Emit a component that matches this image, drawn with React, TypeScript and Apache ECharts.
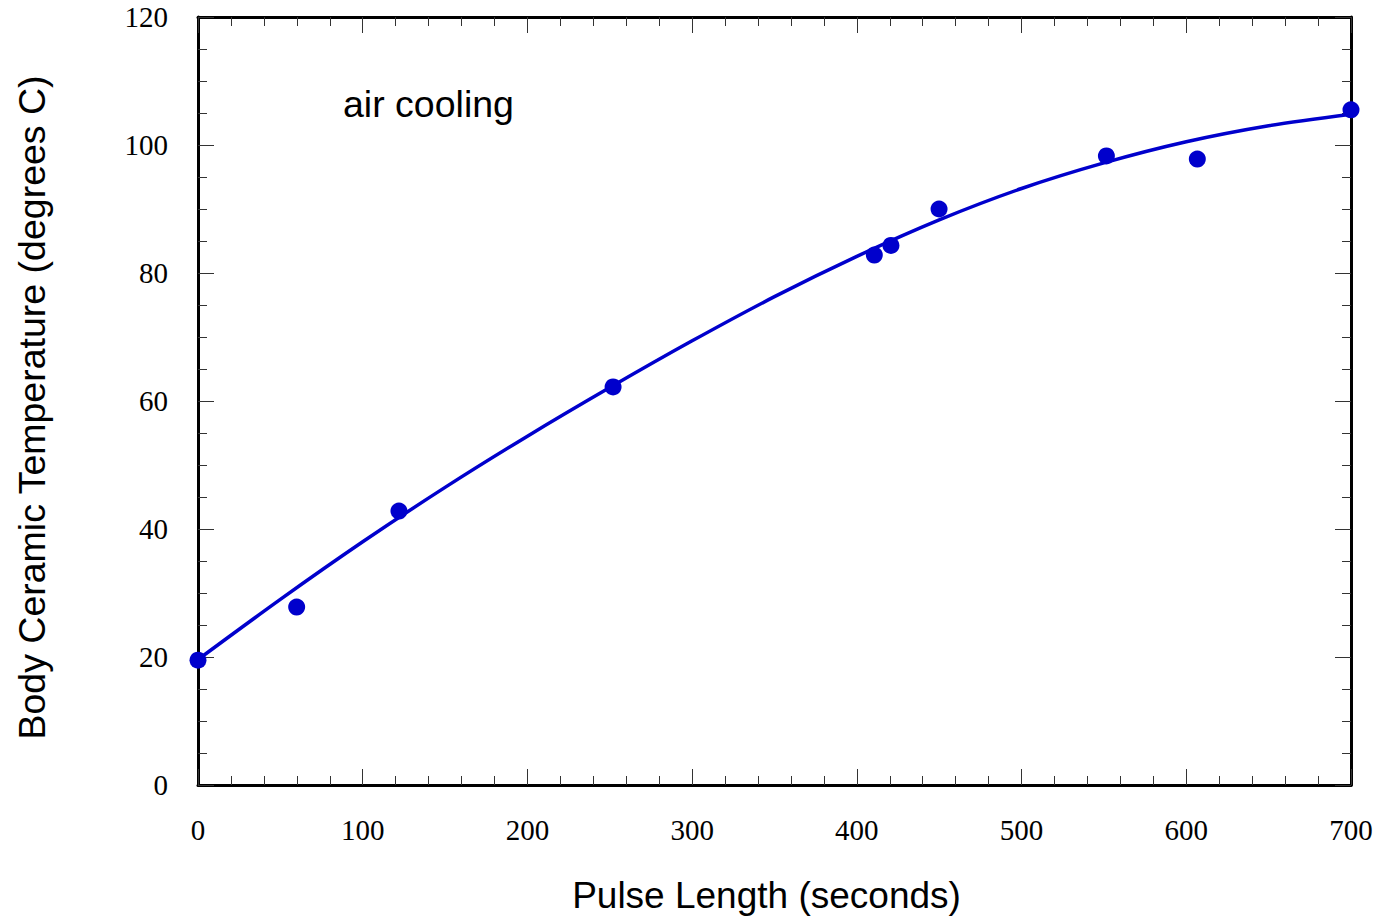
import React, { useEffect, useRef } from "react";
import * as echarts from "echarts";

// Measured points
const pulseLength = [0, 59.9, 122, 252, 410.6, 420.7, 449.9, 551.5, 606.7, 700];
const bodyTemp = [19.5, 27.8, 42.8, 62.2, 82.8, 84.3, 90.0, 98.3, 97.8, 105.5];

// Fitted curve
const fitX = [0, 50, 100, 150, 200, 250, 300, 350, 400, 450, 500, 550, 600, 650, 700];
const fitY = [19.6, 29.0, 38.0, 46.5, 54.5, 62.1, 69.4, 76.3, 82.6, 88.3, 93.2, 97.2, 100.5, 103.0, 104.8];

const xTicks = [0, 100, 200, 300, 400, 500, 600, 700];
const yTicks = [0, 20, 40, 60, 80, 100, 120];

const xTitle = "Pulse Length (seconds)";
const yTitle = "Body Ceramic Temperature (degrees C)";
const note = "air cooling";

const BLUE = "#0000cc";
const SERIF = "'Liberation Serif', 'Times New Roman', serif";
const SANS = "'Liberation Sans', Arial, sans-serif";

export default function App() {
  const ref = useRef<HTMLDivElement>(null);
  useEffect(() => {
    if (!ref.current) return;
    const chart = echarts.init(ref.current, null, { renderer: "svg" });
    const tickCommon = {
      axisTick: { show: true, inside: true, length: 16, lineStyle: { color: "#333", width: 1 } },
      splitLine: { show: false },
      axisLine: { show: true, onZero: false, lineStyle: { color: "#000", width: 3 } },
    };
    const minor = (n: number) => ({ show: true, splitNumber: n, length: 9, lineStyle: { color: "#333", width: 1 } });
    const xBase = { type: "value", min: 0, max: 700, interval: 100 };
    const yBase = { type: "value", min: 0, max: 120, interval: 20 };
    const labelStyle = { show: true, margin: 30, fontFamily: SERIF, fontSize: 29, color: "#000" };
    chart.setOption({
      animation: false,
      grid: { left: 198, right: 29, top: 17, bottom: 133, containLabel: false },
      xAxis: [
        {
          ...xBase,
          ...tickCommon,
          minorTick: minor(5),
          position: "bottom",
          axisLabel: { ...labelStyle, formatter: (v: number) => (xTicks.includes(v) ? String(v) : "") },
        },
        {
          ...xBase,
          ...tickCommon,
          minorTick: minor(5),
          position: "top",
          axisLabel: { show: false },
        },
      ],
      yAxis: [
        {
          ...yBase,
          ...tickCommon,
          minorTick: minor(4),
          position: "left",
          axisLabel: { ...labelStyle, formatter: (v: number) => (yTicks.includes(v) ? String(v) : "") },
        },
        {
          ...yBase,
          ...tickCommon,
          minorTick: minor(4),
          position: "right",
          axisLabel: { show: false },
        },
      ],
      graphic: [
        {
          type: "text",
          left: 343,
          top: 85,
          style: { text: note, fontFamily: SANS, fontSize: 37.5, fill: "#000" },
        },
        {
          type: "text",
          x: 766.5,
          y: 895,
          style: {
            text: xTitle,
            fontFamily: SANS,
            fontSize: 37,
            fill: "#000",
            align: "center",
            verticalAlign: "middle",
          },
        },
        {
          type: "text",
          x: 32,
          y: 407.5,
          rotation: Math.PI / 2,
          style: {
            text: yTitle,
            fontFamily: SANS,
            fontSize: 37.5,
            fill: "#000",
            align: "center",
            verticalAlign: "middle",
          },
        },
      ],
      series: [
        {
          type: "line",
          data: fitX.map((x, i) => [x, fitY[i]]),
          smooth: 0.3,
          showSymbol: false,
          lineStyle: { color: BLUE, width: 3.5 },
          clip: false,
          z: 2,
        },
        {
          type: "scatter",
          data: pulseLength.map((x, i) => [x, bodyTemp[i]]),
          symbol: "circle",
          symbolSize: 17,
          itemStyle: { color: BLUE, opacity: 1 },
          clip: false,
          z: 3,
        },
      ],
    });
    return () => chart.dispose();
  }, []);
  return (
    <div
      ref={ref}
      style={{ position: "fixed", left: 0, top: 0, width: 1380, height: 918, background: "#fff" }}
    />
  );
}
